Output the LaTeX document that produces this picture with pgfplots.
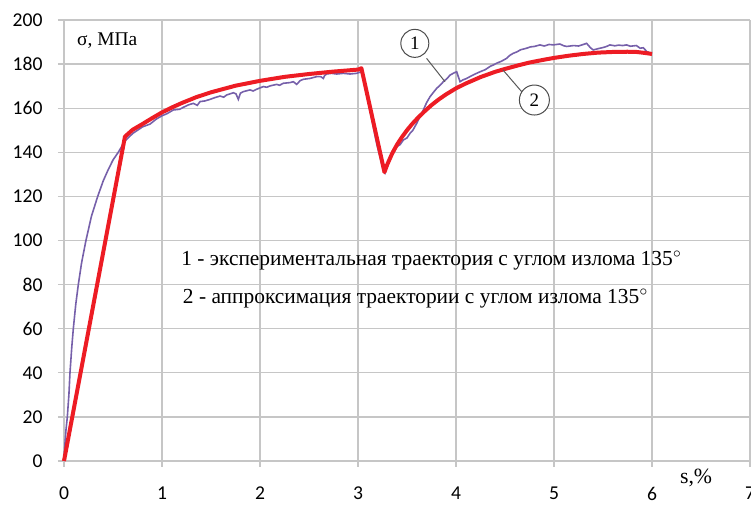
\documentclass[border=0pt]{standalone}
\usepackage{pgfplots}
\pgfplotsset{compat=1.18}
\usepackage{fontspec}
\setmainfont{Liberation Serif}
\newfontfamily\calibri{Carlito}
\definecolor{gridc}{RGB}{198,198,198}
\definecolor{expc}{RGB}{118,96,170}
\definecolor{appc}{RGB}{237,28,36}
\begin{document}
\begin{tikzpicture}
\begin{axis}[
  scale only axis,
  width=343pt, height=220.5pt,
  xmin=0, xmax=7, ymin=0, ymax=200,
  xtick={0,1,...,7}, ytick={0,20,...,200},
  grid=major,
  major grid style={gridc, line width=0.65pt},
  axis line style={draw=none},
  tick align=outside, major tick length=3pt,
  xtick pos=bottom, ytick pos=left,
  tick style={gridc, line width=0.65pt},
  /pgf/number format/assume math mode=true,
  ticklabel style={font=\calibri\fontsize{9.8}{11}\selectfont, text=black},
  yticklabel style={xshift=-4.2pt},
  xticklabel style={yshift=-6.6pt},
  clip=false,
]
\addplot[expc, line width=0.8pt] coordinates {
(0,0)(0.01,8)(0.02,14)(0.034,20)(0.05,30)(0.061,40)(0.08,52)(0.095,60)(0.12,71)(0.146,80)(0.18,90)(0.224,100)(0.28,111)(0.344,120)(0.4,127)(0.45,132)(0.5,136.5)(0.554,140)(0.62,145)(0.7,148.5)(0.8,151.5)(0.878,152.8)(0.94,155)(0.997,156.5)(1.05,157.5)(1.116,159.2)(1.18,159.5)(1.218,160.4)(1.27,161.5)(1.32,162.2)(1.36,161.3)(1.388,163)(1.44,163.3)(1.49,164)(1.54,164.8)(1.592,165.5)(1.63,165)(1.66,166)(1.728,167)(1.755,166.5)(1.779,164)(1.80,166.8)(1.83,167.5)(1.898,168.3)(1.93,167.8)(1.966,168.6)(2.034,169.8)(2.07,169.5)(2.102,170.1)(2.17,170.8)(2.2,170.4)(2.238,171.3)(2.306,171.6)(2.34,172)(2.374,170.8)(2.41,172.5)(2.442,173.1)(2.51,173.5)(2.578,174.3)(2.62,174.3)(2.646,173.5)(2.66,174.8)(2.68,175.5)(2.73,175.8)(2.782,175.5)(2.85,175.8)(2.918,175.5)(2.986,175.8)(3.03,176.5)(3.054,174.3)(3.122,159)(3.19,144)(3.258,132)(3.276,130.6)(3.327,138)(3.36,139.5)(3.395,142.5)(3.43,143.5)(3.463,145.6)(3.5,146.5)(3.531,148.6)(3.56,150)(3.599,153.1)(3.63,156)(3.667,159.2)(3.7,162.5)(3.735,165.2)(3.77,167.2)(3.803,169)(3.84,170.5)(3.871,172)(3.91,173.5)(3.939,175)(3.98,176)(4.007,176.5)(4.041,172)(4.07,172.8)(4.109,173.5)(4.15,174.5)(4.2,175.6)(4.245,176.5)(4.3,177.5)(4.35,179)(4.381,179.6)(4.42,180.5)(4.46,181.2)(4.517,182.6)(4.55,184)(4.585,184.9)(4.62,185.5)(4.66,186.5)(4.721,187.2)(4.76,187.8)(4.8,188)(4.857,188.7)(4.9,188.2)(4.95,188.9)(4.993,188.7)(5.06,189.1)(5.1,188.3)(5.13,188)(5.2,188.4)(5.25,188.2)(5.3,188.9)(5.333,189.4)(5.37,187.5)(5.40,186.4)(5.45,187)(5.5,187.5)(5.537,188)(5.57,188.7)(5.62,188.3)(5.66,188.6)(5.7,188.4)(5.74,188.7)(5.78,188.1)(5.84,188.4)(5.88,187.2)(5.91,187.4)(5.95,185.6)(6.0,184.8)
};
\addplot[appc, line width=2pt, line join=round] coordinates {
(0,0)(0.622,147.1)(0.7,150.2)(0.8,152.8)(0.9,155.5)(1.0,158.1)(1.1,160.3)(1.2,162.3)(1.35,165)(1.5,167.2)(1.75,170.2)(2.0,172.4)(2.25,174.2)(2.5,175.5)(2.75,176.6)(3.0,177.5)(3.035,178.1)(3.27,131)(3.3,134.6)(3.35,139.6)(3.4,143.6)(3.45,147)(3.5,150)(3.55,152.7)(3.6,155.1)(3.675,158.4)(3.75,161.4)(3.825,164)(3.9,166.3)(4.0,169)(4.1,171.2)(4.25,174.1)(4.4,176.5)(4.5,177.8)(4.65,179.6)(4.75,180.7)(4.9,182)(5.0,182.8)(5.15,183.8)(5.3,184.6)(5.45,185.2)(5.6,185.5)(5.75,185.6)(5.84,185.5)(5.92,185.1)(6.0,184.6)
};
\node[anchor=west, font=\fontsize{9.7}{11}\selectfont, inner sep=0pt] at (axis cs:0.13,190.5) {σ, МПа};
\node[anchor=base west, font=\fontsize{10.7}{12}\selectfont, inner sep=0pt] at (axis cs:1.194,88.5) {1 - экспериментальная траектория с углом излома 135$^{\circ}$};
\node[anchor=base west, font=\fontsize{10.7}{12}\selectfont, inner sep=0pt] at (axis cs:1.21,71.3) {2 - аппроксимация траектории с углом излома 135$^{\circ}$};
\node[font=\fontsize{10.9}{12}\selectfont, inner sep=0pt] at (axis cs:6.45,-7.8) {s,\%};
\draw[black!65, line width=0.5pt] (axis cs:3.70,182.6) -- (axis cs:3.888,172);
\draw[black!65, line width=0.5pt] (axis cs:4.67,167.5) -- (axis cs:4.48,177.3);
\node[circle, draw=black!70, line width=0.5pt, fill=white, minimum size=14pt, inner sep=0pt, font=\fontsize{9.5}{10}\selectfont] at (axis cs:3.58,189.4) {1};
\node[circle, draw=black!70, line width=0.5pt, fill=white, minimum size=15pt, inner sep=0pt, font=\fontsize{9.5}{10}\selectfont] at (axis cs:4.80,163.7) {2};
\end{axis}
\pgfresetboundingbox
\path[use as bounding box] (-32pt,-22.5pt) rectangle (343.5pt,230.5pt);
\end{tikzpicture}
\end{document}
